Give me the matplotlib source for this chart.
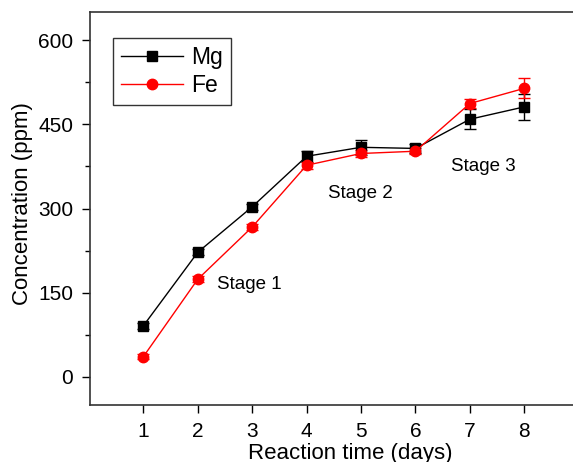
import matplotlib
matplotlib.use("Agg")
import matplotlib.pyplot as plt
from matplotlib.ticker import MultipleLocator
from matplotlib.lines import Line2D

plt.rcParams['font.family'] = ['Liberation Sans', 'DejaVu Sans']

days = [1, 2, 3, 4, 5, 6, 7, 8]
mg = [91, 222, 303, 393, 409, 407, 459, 481]
mg_err = [5, 5, 5, 10, 13, 8, 18, 23]
fe = [36, 174, 267, 377, 398, 402, 487, 514]
fe_err = [4, 5, 5, 6, 6, 5, 8, 18]
x_ticks = [1, 2, 3, 4, 5, 6, 7, 8]
y_ticks = [0, 150, 300, 450, 600]

fig = plt.figure(figsize=(5.73, 4.62), dpi=100)
ax = fig.add_axes([90/573, 1 - 405/462, (573 - 90)/573 + 0.01, (405 - 12)/462])

ax.errorbar(days, mg, yerr=mg_err, color='black', marker='s', markersize=6.5,
            linewidth=1, capsize=4, elinewidth=1, capthick=1)
ax.errorbar(days, fe, yerr=fe_err, color='red', marker='o', markersize=7.5,
            linewidth=1, capsize=4, elinewidth=1, capthick=1)

ax.set_xlim(0.02, 9.0)
ax.set_ylim(-50, 650)
ax.set_xticks(x_ticks)
ax.set_yticks(y_ticks)
ax.yaxis.set_minor_locator(MultipleLocator(75))
ax.tick_params(axis='both', which='major', direction='out', length=6, width=1,
               labelsize=15, top=False, right=False)
ax.tick_params(axis='x', which='major', pad=6)
ax.tick_params(axis='y', which='major', pad=6)
ax.tick_params(axis='y', which='minor', direction='out', length=3.5, width=1)
ax.tick_params(axis='x', which='minor', bottom=False)
ax.spines['right'].set_visible(False)
for s in ['left', 'bottom', 'top']:
    ax.spines[s].set_linewidth(1.2)
    ax.spines[s].set_color('#333333')

ax.set_xlabel('Reaction time (days)', fontsize=16)
ax.xaxis.set_label_coords((350 - 90) / (573 - 90 + 5.73), -(453 - 405) / 393)
ax.xaxis.label.set_va('center')
ax.set_ylabel('Concentration (ppm)', fontsize=16)
ax.yaxis.set_label_coords(-(90 - 23) / (573 - 90 + 5.73), (405 - 204) / 393)
ax.yaxis.label.set_va('center')

ax.text(2.35, 164, 'Stage 1', fontsize=13.5, ha='left', va='center')
ax.text(4.40, 327, 'Stage 2', fontsize=13.5, ha='left', va='center')
ax.text(6.65, 375, 'Stage 3', fontsize=13.5, ha='left', va='center')

handles = [
    Line2D([], [], color='black', marker='s', markersize=6.5, linewidth=1),
    Line2D([], [], color='red', marker='o', markersize=7.5, linewidth=1),
]
leg = ax.legend(handles, ['Mg', 'Fe'], loc='upper left',
                bbox_to_anchor=((113 - 90) / 489, (405 - 38) / 393),
                fontsize=16.5, frameon=True, fancybox=False, edgecolor='black',
                handlelength=2.7, borderpad=0.35, labelspacing=0.2,
                handletextpad=0.35, borderaxespad=0)
leg.get_frame().set_linewidth(1)

fig.savefig('out.png', dpi=100)
